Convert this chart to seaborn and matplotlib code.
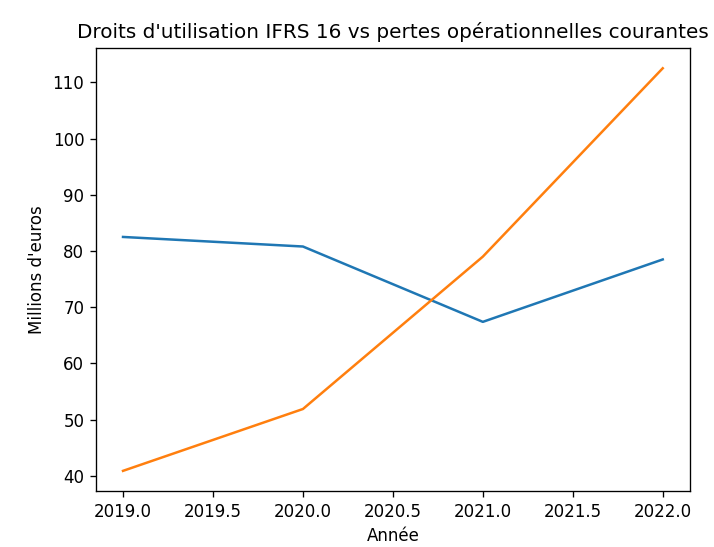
import pandas as pd
import matplotlib
matplotlib.use("Agg")
import matplotlib.pyplot as plt
import seaborn as sns

annees = [2019, 2020, 2021, 2022]
droits_utilisation = [82.5, 80.8, 67.4, 78.5]
pertes_courantes = [40.9, 51.9, 79.0, 112.5]

df = pd.DataFrame({
    "Année": annees * 2,
    "valeur": droits_utilisation + pertes_courantes,
    "serie": ["Droits d'utilisation"] * 4 + ["Pertes opérationnelles courantes"] * 4,
})

plt.style.use("default")
# rendu à 120 dpi : 714x547 px
fig = plt.figure(figsize=(714 / 120, 547 / 120), dpi=120)
ax = fig.add_axes([0.1345, 0.1024, 0.8315, 0.8096])

sns.lineplot(data=df, x="Année", y="valeur", hue="serie",
             palette=["#1f77b4", "#ff7f0e"], legend=False, ax=ax)

ax.set_title("Droits d'utilisation IFRS 16 vs pertes opérationnelles courantes")
ax.set_xlabel("Année")
ax.set_ylabel("Millions d'euros")

fig.savefig("out.png", dpi=120)
